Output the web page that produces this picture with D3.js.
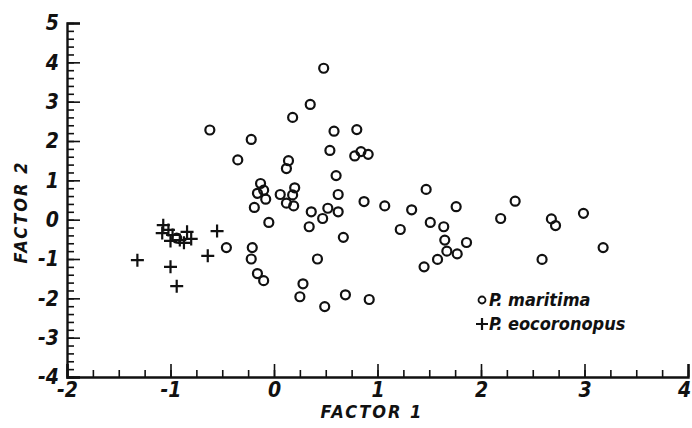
<!DOCTYPE html>
<html>
<head>
<meta charset="utf-8">
<script src="https://cdn.jsdelivr.net/npm/d3@7"></script>
<style>
  body { margin: 0; background: #fff; }
  text { font-family: "DejaVu Sans", sans-serif; font-stretch: condensed; font-style: italic; font-weight: bold; fill: #111; }
</style>
</head>
<body>
<script>
// P. maritima (circles)
var maritimaX = [0.48, 0.35, 0.18, -0.62, -0.22, 0.58, 0.80, 0.54, 0.78, 0.84, 0.91, -0.35, 0.14, 0.12, 0.60,
  -0.13, -0.16, -0.10, -0.08, -0.19, 0.06, 0.20, 0.18, 0.12, 0.19, -0.05, 0.36, 0.52, 0.62, 0.47, 0.34, 0.62,
  0.87, 1.07, 1.47, 1.33, 1.22, 1.51, 1.64, 1.65, 1.67, 1.58, 1.45, 0.67, -0.21, -0.22, -0.16, -0.10, 0.42,
  0.28, 0.25, 0.49, 0.69, 0.92, 1.76, 1.86, 1.77, 2.19, 2.33, 2.68, 2.72, 2.99, 3.18, 2.59, -0.46, -0.94];
var maritimaY = [3.85, 2.93, 2.60, 2.28, 2.04, 2.25, 2.29, 1.76, 1.62, 1.73, 1.66, 1.52, 1.50, 1.30, 1.12,
  0.92, 0.67, 0.75, 0.52, 0.31, 0.64, 0.81, 0.63, 0.42, 0.35, -0.07, 0.20, 0.29, 0.20, 0.03, -0.18, 0.64,
  0.46, 0.35, 0.77, 0.25, -0.25, -0.07, -0.18, -0.52, -0.80, -1.01, -1.20, -0.45, -0.71, -1.00, -1.37, -1.55, -1.00,
  -1.63, -1.96, -2.21, -1.91, -2.03, 0.33, -0.58, -0.87, 0.03, 0.47, 0.02, -0.15, 0.16, -0.71, -1.01, -0.71, -0.47];

// P. eocoronopus (crosses)
var eocoronopusX = [-1.07, -1.08, -1.02, -0.98, -1.00, -0.91, -0.84, -0.80, -0.87, -0.55, -1.32, -1.00, -0.94, -0.64];
var eocoronopusY = [-0.14, -0.34, -0.26, -0.39, -0.54, -0.52, -0.31, -0.49, -0.59, -0.29, -1.03, -1.20, -1.69, -0.92];

var xMajor = [-2, -1, 0, 1, 2, 3, 4];
var yMajor = [-4, -3, -2, -1, 0, 1, 2, 3, 4, 5];
var legendLabels = ["P. maritima", "P. eocoronopus"];

var width = 692, height = 428;
var svg = d3.select("body").append("svg").attr("width", width).attr("height", height);

var x = d3.scaleLinear().domain([-2, 4]).range([67, 688]);
var y = d3.scaleLinear().domain([-4, 5]).range([377, 23]);

var xMinor = d3.range(-2, 4.001, 0.25);
var yMinor = d3.range(-4, 5.001, 0.2);

var fmt = function(d){ return d < 0 ? "-" + (-d) : d; };

// minor ticks
svg.append("g").attr("transform", "translate(0," + y(-4) + ")")
  .call(d3.axisBottom(x).tickValues(xMinor).tickSize(-7).tickFormat(""))
  .call(function(g){ g.select(".domain").remove(); });
svg.append("g").attr("transform", "translate(" + x(-2) + ",0)")
  .call(d3.axisLeft(y).tickValues(yMinor).tickSize(-7).tickFormat(""))
  .call(function(g){ g.select(".domain").remove(); });

// major ticks + labels
var xAxis = svg.append("g").attr("transform", "translate(0," + y(-4) + ")")
  .call(d3.axisBottom(x).tickValues(xMajor).tickSize(-13).tickPadding(5).tickFormat(fmt));
var yAxis = svg.append("g").attr("transform", "translate(" + x(-2) + ",0)")
  .call(d3.axisLeft(y).tickValues(yMajor).tickSize(-13).tickPadding(8).tickFormat(fmt));

svg.selectAll(".tick line").attr("stroke", "#111").attr("stroke-width", 1.6);
svg.selectAll(".domain").attr("stroke", "#111").attr("stroke-width", 2.4);
svg.selectAll("g").attr("font-family", null);
svg.selectAll(".tick text").attr("font-size", 21);
xAxis.selectAll(".tick text").filter(function(d){ return d === 4; }).attr("dx", -4);

// axis titles
svg.append("text")
  .attr("x", 372).attr("y", 418)
  .attr("text-anchor", "middle")
  .attr("font-size", 18)
  .attr("letter-spacing", 2)
  .text("FACTOR 1");

svg.append("text")
  .attr("transform", "translate(27,212) rotate(-90)")
  .attr("text-anchor", "middle")
  .attr("font-size", 18)
  .attr("letter-spacing", 2)
  .text("FACTOR 2");

// circles
svg.selectAll("circle.mar")
  .data(maritimaX)
  .enter().append("circle")
    .attr("class", "mar")
    .attr("cx", function(d){ return x(d); })
    .attr("cy", function(d, i){ return y(maritimaY[i]); })
    .attr("r", 4.5)
    .attr("fill", "none")
    .attr("stroke", "#111")
    .attr("stroke-width", 2.2);

// crosses
var cs = 6.5;
svg.selectAll("path.eoc")
  .data(eocoronopusX)
  .enter().append("path")
    .attr("class", "eoc")
    .attr("d", function(d, i){
      var cx = x(d), cy = y(eocoronopusY[i]);
      return "M" + (cx - cs) + "," + cy + "H" + (cx + cs) + "M" + cx + "," + (cy - cs) + "V" + (cy + cs);
    })
    .attr("stroke", "#111")
    .attr("stroke-width", 2.2);

// legend
var lg = svg.append("g").attr("transform", "translate(476,300)");
lg.append("circle").attr("cx", 6).attr("cy", 0).attr("r", 3.5)
  .attr("fill", "none").attr("stroke", "#111").attr("stroke-width", 1.8);
lg.append("path").attr("d", "M0,24H12M6,18V30").attr("stroke", "#111").attr("stroke-width", 2.2);
lg.selectAll("text")
  .data(legendLabels)
  .enter().append("text")
    .attr("x", 13)
    .attr("y", function(d, i){ return 6 + i * 24; })
    .attr("font-size", 18)
    .text(function(d){ return d; });
</script>
</body>
</html>
